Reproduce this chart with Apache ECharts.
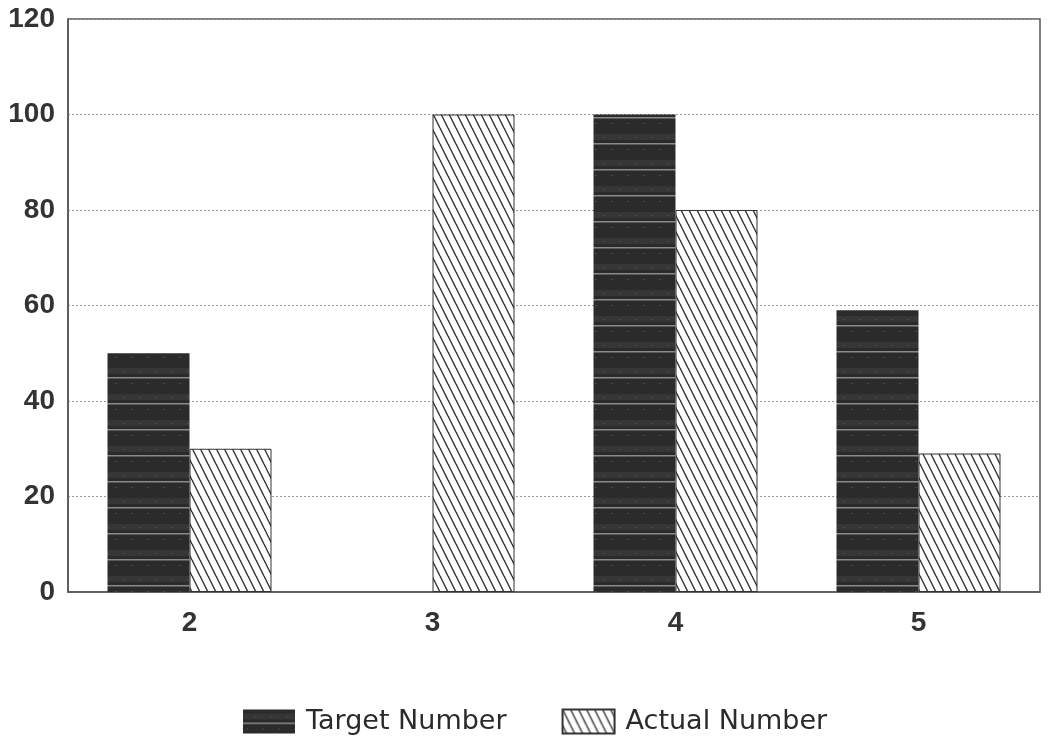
<!DOCTYPE html>
<html><head><meta charset="utf-8">
<script src="https://cdn.jsdelivr.net/npm/echarts@6/dist/echarts.min.js"></script>
<style>html,body{margin:0;padding:0;background:#fff}#c{width:1048px;height:745px}</style>
</head><body><div id="c"></div>
<script>
const categories = ['2', '3', '4', '5'];
const targetNumber = [50, null, 100, 59];
const actualNumber = [30, 100, 80, 29];
const yTicks = { min: 0, max: 120, interval: 20 };

function darkPattern() {
  const c = document.createElement('canvas');
  c.width = 16; c.height = 26;
  const g = c.getContext('2d');
  g.fillStyle = '#2b2b2b'; g.fillRect(0, 0, 16, 26);
  g.fillStyle = '#363636'; g.fillRect(0, 4, 16, 6);
  g.fillStyle = '#8a8a8a'; g.fillRect(0, 13, 16, 1.5);
  g.fillStyle = '#4a4a4a'; g.fillRect(3, 19, 2, 1); g.fillRect(11, 7, 2, 1);
  return c;
}
function hatchPattern() {
  const c = document.createElement('canvas');
  c.width = 8; c.height = 16;
  const g = c.getContext('2d');
  g.fillStyle = '#fff'; g.fillRect(0, 0, 8, 16);
  g.strokeStyle = '#333'; g.lineWidth = 1.4;
  [-8, 0, 8].forEach(o => { g.beginPath(); g.moveTo(o, 0); g.lineTo(o + 8, 16); g.stroke(); });
  return c;
}

const chart = echarts.init(document.getElementById('c'), null, { renderer: 'canvas' });
const font = '"Liberation Sans", Arial, sans-serif';
chart.setOption({
  animation: false,
  backgroundColor: '#fff',
  grid: { left: 68, right: 8, top: 19, bottom: 153, show: true, borderColor: '#555', borderWidth: 1.5 },
  legend: {
    top: 703, left: 238, itemWidth: 52, itemHeight: 24, itemGap: 55, icon: 'rect',
    textStyle: { fontFamily: '"DejaVu Sans", sans-serif', fontSize: 27, color: '#2a2a2a', padding: [0, 0, 0, 6] },
    data: ['Target Number', 'Actual Number']
  },
  xAxis: {
    type: 'category', data: categories,
    axisLine: { show: true, lineStyle: { color: '#555', width: 1.5 } },
    axisTick: { show: false },
    axisLabel: { fontFamily: font, fontSize: 28, fontWeight: 'bold', color: '#333', margin: 17 }
  },
  yAxis: {
    type: 'value', min: yTicks.min, max: yTicks.max, interval: yTicks.interval,
    axisLine: { show: true, lineStyle: { color: '#555', width: 1.5 } },
    axisTick: { show: false },
    axisLabel: { fontFamily: font, fontSize: 28, fontWeight: 'bold', color: '#333', margin: 13 },
    splitLine: { show: true, lineStyle: { color: '#999', type: [2, 2], width: 1 } }
  },
  series: [
    {
      name: 'Target Number', type: 'bar', data: targetNumber, barWidth: 82, barGap: '0%',
      itemStyle: { color: { image: darkPattern(), repeat: 'repeat' } }
    },
    {
      name: 'Actual Number', type: 'bar', data: actualNumber, barWidth: 82, barGap: '0%',
      itemStyle: { color: { image: hatchPattern(), repeat: 'repeat' }, borderColor: '#333', borderWidth: 1 }
    }
  ]
});
</script>
</body></html>
